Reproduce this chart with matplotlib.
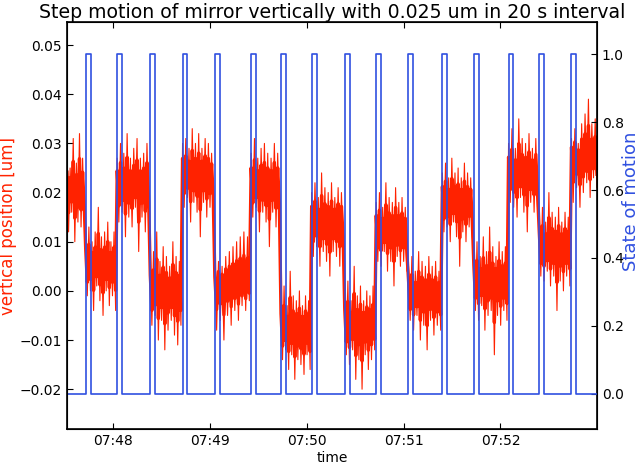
import matplotlib
matplotlib.use("Agg")
import matplotlib.pyplot as plt
import matplotlib.dates as mdates
import numpy as np
import pandas as pd

day = "2015-06-01 "

# start of each step (state of motion goes to 1), pulse lasts ~3 s
pulse_start = ["07:47:43", "07:48:02.5", "07:48:23", "07:48:43", "07:49:03",
               "07:49:25.5", "07:49:44", "07:50:03", "07:50:23.5", "07:50:43",
               "07:51:03", "07:51:24", "07:51:43.5", "07:52:05", "07:52:24",
               "07:52:44"]
pulse_len = 3.0
t_start = "07:47:31.4"
t_end = "07:52:59.8"

# vertical position samples (um), one list per segment between steps
vertical_position = [
    [0.027, 0.012, 0.025, 0.016, 0.031, 0.010, 0.026, 0.014, 0.032, 0.013, 0.027, 0.015],
    [0.011, -0.001, 0.013, 0.000, 0.010, -0.004, 0.012, 0.001, 0.017, -0.002,
     0.011, -0.005, 0.012, 0.000, 0.014, -0.003, 0.010, -0.001, 0.012, -0.004],
    [0.027, 0.014, 0.030, 0.016, 0.028, 0.011, 0.032, 0.015, 0.027, 0.013,
     0.029, 0.017, 0.031, 0.008, 0.027, 0.015, 0.028, 0.012, 0.030, 0.016],
    [0.006, -0.007, 0.008, -0.005, 0.012, -0.010, 0.006, -0.006, 0.009, -0.012,
     0.007, -0.008, 0.005, -0.006, 0.010, -0.009, 0.007, -0.011, 0.006, -0.007],
    [0.030, 0.017, 0.031, 0.019, 0.029, 0.014, 0.033, 0.018, 0.030, 0.016,
     0.032, 0.011, 0.029, 0.018, 0.031, 0.015, 0.030, 0.017, 0.028, 0.016],
    [0.004, -0.008, 0.006, -0.006, 0.005, -0.010, 0.007, -0.005, 0.008, -0.007,
     0.009, -0.004, 0.010, -0.006, 0.011, -0.003, 0.012, -0.004, 0.011, -0.002],
    [0.028, 0.015, 0.031, 0.017, 0.027, 0.012, 0.029, 0.016, 0.030, 0.014,
     0.028, 0.009, 0.027, 0.016, 0.030, 0.013, 0.028, 0.015],
    [-0.002, -0.014, 0.001, -0.012, -0.003, -0.016, 0.004, -0.013, -0.001, -0.018,
     -0.002, -0.014, 0.000, -0.015, -0.003, -0.017, -0.001, -0.013, -0.002, -0.016],
    [0.020, 0.007, 0.022, 0.009, 0.019, 0.005, 0.024, 0.008, 0.021, 0.006,
     0.020, 0.003, 0.022, 0.008, 0.019, 0.007, 0.021, 0.005, 0.020, 0.009],
    [-0.001, -0.013, 0.002, -0.015, -0.002, -0.012, 0.005, -0.018, -0.001, -0.014,
     0.001, -0.020, -0.002, -0.013, 0.000, -0.016, -0.001, -0.014, 0.001, -0.012],
    [0.018, 0.006, 0.020, 0.005, 0.017, 0.008, 0.022, 0.004, 0.019, 0.006,
     0.018, 0.001, 0.021, 0.007, 0.018, 0.005, 0.019, 0.006, 0.017, 0.004],
    [0.005, -0.006, 0.007, -0.008, 0.004, -0.005, 0.008, -0.010, 0.006, -0.007,
     0.005, -0.012, 0.007, -0.006, 0.005, -0.009, 0.006, -0.007, 0.004, -0.008],
    [0.024, 0.012, 0.026, 0.013, 0.023, 0.010, 0.027, 0.014, 0.024, 0.011,
     0.025, 0.005, 0.023, 0.012, 0.026, 0.010, 0.024, 0.013, 0.023, 0.011],
    [0.008, -0.004, 0.010, -0.006, 0.007, -0.003, 0.011, -0.008, 0.008, -0.005, 0.013,
     -0.004, 0.009, -0.013, 0.007, -0.005, 0.010, -0.007, 0.008, -0.004, 0.009, -0.006],
    [0.030, 0.018, 0.033, 0.017, 0.029, 0.015, 0.035, 0.019, 0.031, 0.016,
     0.030, 0.012, 0.032, 0.018, 0.029, 0.016, 0.031, 0.017],
    [0.015, 0.003, 0.017, 0.002, 0.014, 0.004, 0.020, 0.001, 0.016, 0.003,
     0.015, -0.004, 0.017, 0.002, 0.014, 0.000, 0.016, 0.003, 0.015, 0.001],
    [0.031, 0.018, 0.033, 0.021, 0.030, 0.017, 0.034, 0.020, 0.036, 0.022,
     0.039, 0.019, 0.034, 0.023, 0.035, 0.021],
]

red = "#ff2200"
blue = "#3050e0"


def to_num(s):
    return mdates.date2num(pd.to_datetime(day + s))


rise = np.array([to_num(s) for s in pulse_start])
fall = rise + pulse_len / 86400.0
t0, t1 = to_num(t_start), to_num(t_end)

# red trace: samples spread over each segment
bounds = np.concatenate([[t0], rise, [t1 + 1 / 86400.0]])
xs, ys, core = [], [], []
for i, seg in enumerate(vertical_position):
    seg = np.array(seg)
    m = seg.mean()
    xs.append(np.linspace(bounds[i], bounds[i + 1], len(seg), endpoint=False))
    ys.append(seg)
    core.append(m + 0.55 * (seg - m))  # dense middle of the noise band
xs = np.concatenate(xs)
ys = np.concatenate(ys)
core = np.concatenate(core)

# blue state trace
st_x = [t0]
st_y = [0]
for r, f in zip(rise, fall):
    st_x += [r, r, f, f]
    st_y += [0, 1, 1, 0]
st_x.append(t1)
st_y.append(0)

plt.rcParams["font.family"] = "DejaVu Sans"
plt.rcParams["xtick.direction"] = "in"
plt.rcParams["ytick.direction"] = "in"

fig = plt.figure(figsize=(6.4, 4.65), dpi=100)
ax = fig.add_axes([0.1047, 0.0774, 0.8281, 0.8753])
ax.plot(xs, core, color=red, lw=2.4)
ax.plot(xs, ys, color=red, lw=0.8)
ax.set_xlim(t0, t1)
ax.set_ylim(-0.0281, 0.0547)
ax.set_yticks(np.arange(-0.02, 0.051, 0.01))
ax.yaxis.set_major_formatter(plt.FuncFormatter(lambda v, p: f"{v:.2f}".replace("-", "\u2212")))
ax.xaxis.set_major_locator(mdates.MinuteLocator())
ax.xaxis.set_major_formatter(mdates.DateFormatter("%H:%M"))
ax.tick_params(axis="both", labelsize=10, length=4, width=0.8)
ax.tick_params(axis="x", top=True)
ax.set_xlabel("time", fontsize=10, labelpad=2)
ax.set_ylabel("vertical position [um]", color=red, fontsize=12, labelpad=2)
ax.set_title("Step motion of mirror vertically with 0.025 um in 20 s interval", fontsize=13.6, pad=3)
for s in ax.spines.values():
    s.set_linewidth(1.2)

ax2 = ax.twinx()
ax2.plot(st_x, st_y, color=blue, lw=1.2)
ax2.set_ylim(-0.1045, 1.0955)
ax2.set_yticks(np.arange(0, 1.01, 0.2))
ax2.yaxis.set_major_formatter(plt.FuncFormatter(lambda v, p: f"{v:.1f}"))
ax2.tick_params(axis="y", labelsize=10, length=4, width=0.8)
ax2.set_ylabel("State of motion", color=blue, fontsize=13)
ax2.yaxis.set_label_coords(1.047, 0.56)

fig.savefig("out.png", dpi=100)
